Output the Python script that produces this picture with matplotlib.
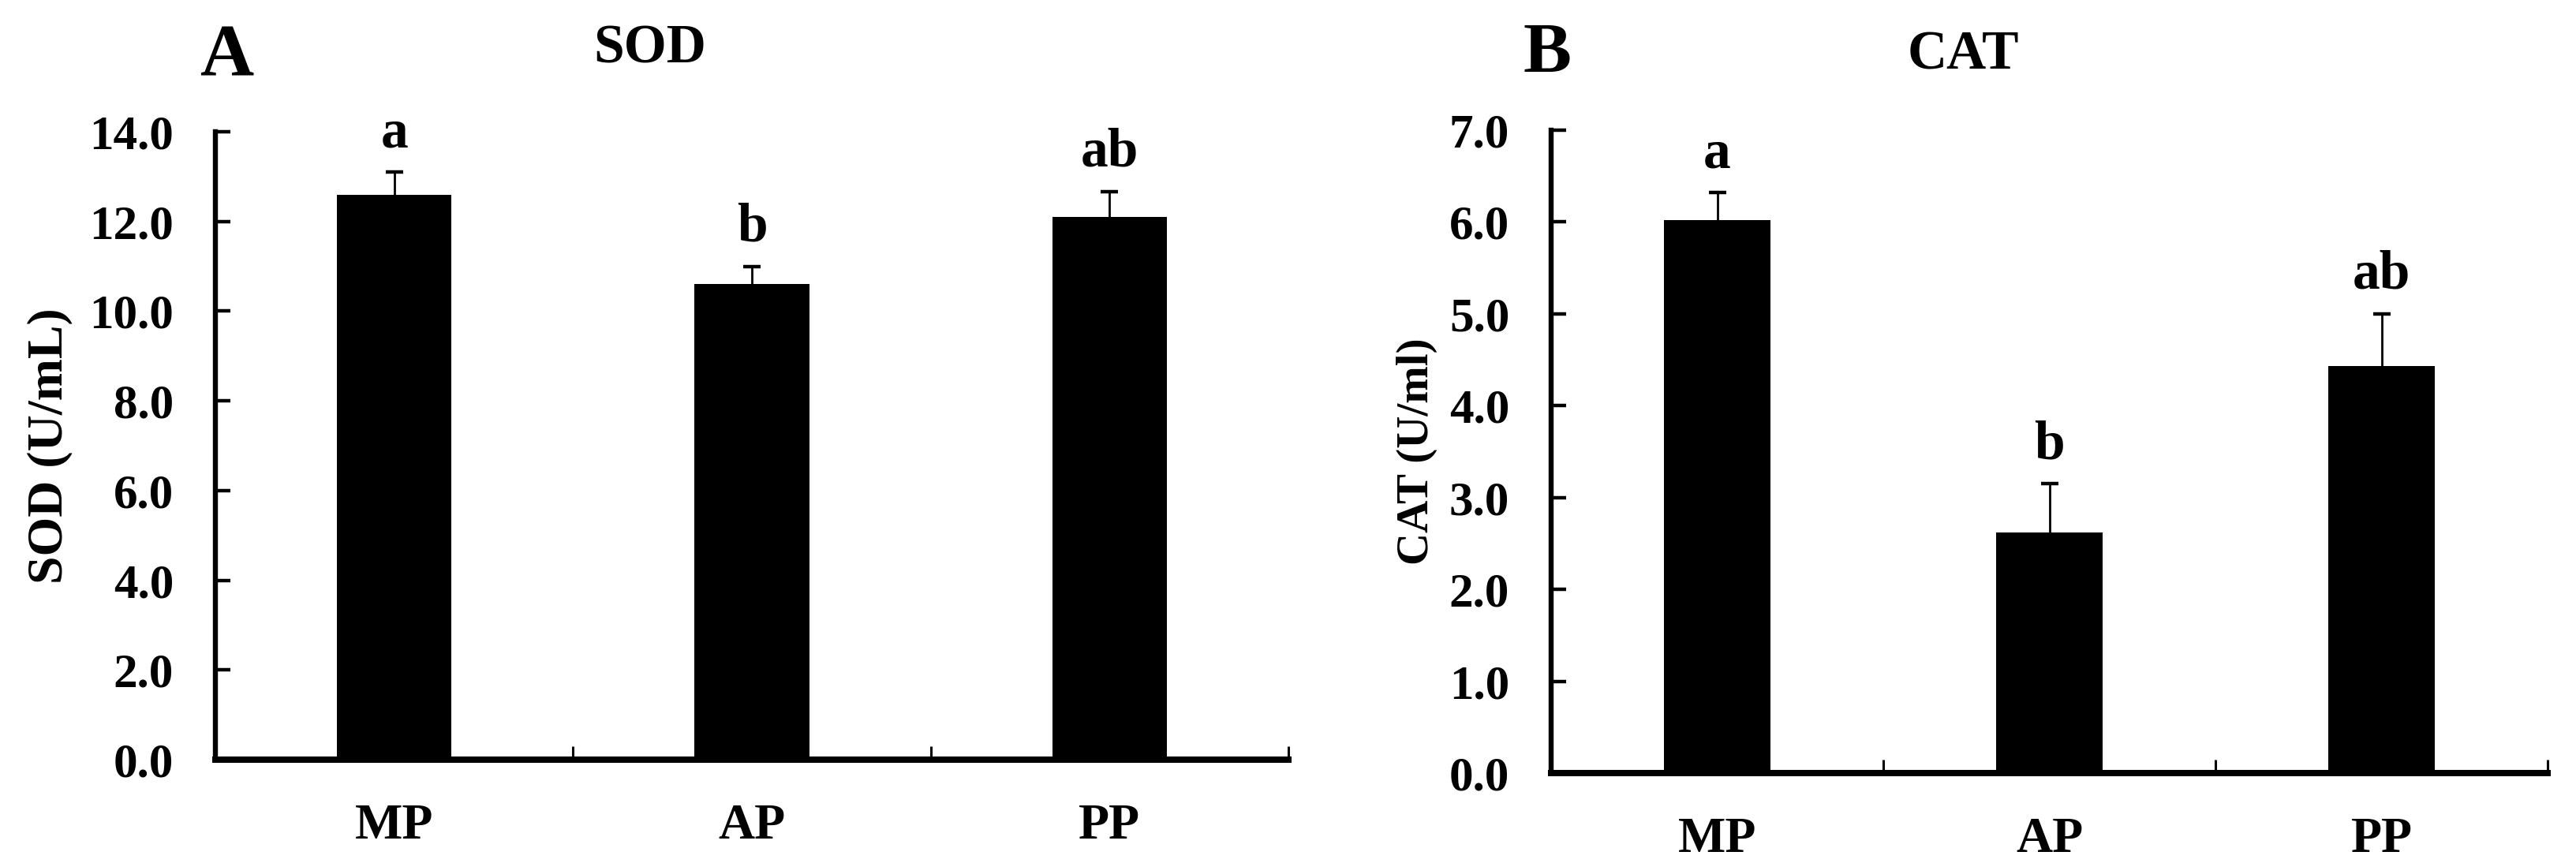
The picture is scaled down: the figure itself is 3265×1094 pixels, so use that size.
import matplotlib
matplotlib.use("Agg")
import matplotlib.pyplot as plt
from matplotlib.ticker import FormatStrFormatter

plt.rcParams["font.family"] = ["Liberation Serif", "DejaVu Serif"]
plt.rcParams["font.weight"] = "bold"

# Data
groups = ["MP", "AP", "PP"]
sod_mean = [12.6, 10.6, 12.1]
sod_err = [0.5, 0.4, 0.57]
sod_letters = ["a", "b", "ab"]
cat_mean = [6.02, 2.62, 4.43]
cat_err = [0.3, 0.53, 0.57]
cat_letters = ["a", "b", "ab"]

W, H = 3265, 1094


def fx(px):
    return px / W


def fy(py):
    return 1 - py / H


def draw_panel(ax, means, errs, letters, ymax, ystep, ylabel, label_x, label_size):
    x = list(range(len(groups)))
    ax.bar(x, means, width=0.32, color="black", zorder=2)
    eb = ax.errorbar(x, means, yerr=[[0] * len(errs), errs], fmt="none", ecolor="black",
                     elinewidth=2.0, capsize=8, capthick=3.2, zorder=3)
    # only the upper cap is shown
    eb[1][0].set_visible(False)
    for xi, m, e, let in zip(x, means, errs, letters):
        ax.annotate(let, xy=(xi, m + e), xytext=(0, 23), textcoords="offset points",
                    ha="center", va="baseline", fontsize=50, fontweight="bold")

    ax.set_xlim(-0.5, len(groups) - 0.5)
    ax.set_ylim(0, ymax)
    ax.set_yticks([i * ystep for i in range(int(round(ymax / ystep)) + 1)])
    ax.yaxis.set_major_formatter(FormatStrFormatter("%.1f"))

    # boundary ticks between groups, labels at centres
    ax.set_xticks([i + 0.5 for i in x])
    ax.set_xticklabels([])
    ax.set_xticks(x, minor=True)
    ax.set_xticklabels(groups, minor=True)
    ax.tick_params(axis="x", which="major", direction="in", length=12, width=2.2)
    ax.tick_params(axis="x", which="minor", length=0, pad=40, labelsize=46)
    ax.tick_params(axis="y", direction="in", length=14, width=3.2, pad=38, labelsize=44)

    for s in ["top", "right"]:
        ax.spines[s].set_visible(False)
    ax.spines["left"].set_linewidth(4.6)
    ax.spines["bottom"].set_linewidth(5.8)

    ax.set_ylabel(ylabel, fontsize=label_size, fontweight="bold", va="center")
    ax.yaxis.set_label_coords(label_x, 0.5)


fig = plt.figure(figsize=(W / 100, H / 100), dpi=100)

ax1 = fig.add_axes([fx(273), fy(963), fx(1633 - 273), (963 - 167) / H])
draw_panel(ax1, sod_mean, sod_err, sod_letters, 14, 2, "SOD (U/mL)", -0.154, 46)

ax2 = fig.add_axes([fx(1966), fy(980), fx(3229 - 1966), (980 - 165) / H])
draw_panel(ax2, cat_mean, cat_err, cat_letters, 7, 1, "CAT (U/ml)", -0.135, 41)

# panel letters and titles
fig.text(fx(253), fy(96), "A", fontsize=68, fontweight="bold", ha="left", va="baseline")
fig.text(fx(824), fy(80), "SOD", fontsize=50, fontweight="bold", ha="center", va="baseline")
fig.text(fx(1931), fy(92), "B", fontsize=66, fontweight="bold", ha="left", va="baseline")
fig.text(fx(2488), fy(87), "CAT", fontsize=50, fontweight="bold", ha="center", va="baseline")

fig.savefig("out.png", dpi=100, facecolor="white")
